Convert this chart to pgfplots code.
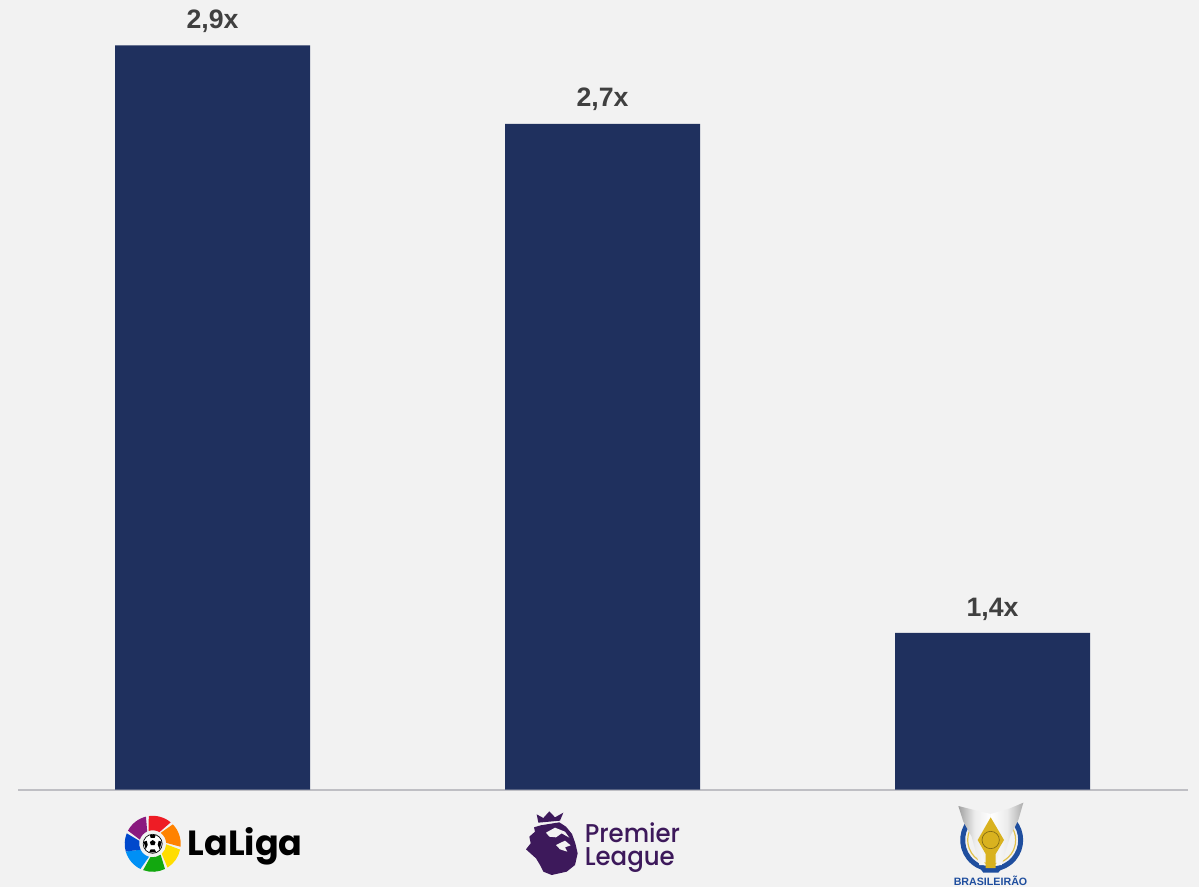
\documentclass[border=0pt]{standalone}
\usepackage{pgfplots}
\pgfplotsset{compat=1.18}
\usepackage{fontspec}
\setmainfont{Liberation Sans}
\newfontfamily\logofont{Poppins}
\newfontfamily\plfont[FakeStretch=0.95]{Poppins Medium}
\definecolor{pagebg}{HTML}{F2F2F2}
\definecolor{barblue}{HTML}{1F305E}
\definecolor{valuegray}{HTML}{404040}
\definecolor{baseline}{HTML}{BFBFC4}
\definecolor{plpurple}{HTML}{3D195B}
\definecolor{brblue}{HTML}{1F4E9E}
\definecolor{brgold}{HTML}{D9B21F}
\definecolor{lgpurple}{HTML}{8A1A7F}
\definecolor{lgred}{HTML}{EE1C25}
\definecolor{lgorange}{HTML}{FF8200}
\definecolor{lgyellow}{HTML}{FFDD00}
\definecolor{lggreen}{HTML}{12A80F}
\definecolor{lgsky}{HTML}{0090F5}
\definecolor{lgblue}{HTML}{0048CC}
% One sector of the seven-part wheel: start angle, end angle, colour
\newcommand{\wheelpart}[3]{%
  \fill[#3] ({#1+10}:13.5) arc[start angle=#1+10,end angle=#2+10,radius=13.5]
     -- (#2:28) arc[start angle=#2,end angle=#1,radius=28] -- cycle;}
\begin{document}
\begin{tikzpicture}
\begin{scope}[x=0.75pt,y=-0.75pt]
  \fill[pagebg] (0,0) rectangle (1199,887);
  \coordinate (origin) at (18,789.5);
\end{scope}
\begin{axis}[
  at={(origin)}, anchor=south west,
  scale only axis,
  width=877.5pt, height=592.1pt,
  xmin=-0.5, xmax=2.5,
  ymin=1, ymax=3.016,
  axis y line=none,
  axis x line=bottom,
  axis line style={-, draw=baseline, line width=1.5pt},
  xtick=\empty, ytick=\empty,
  clip=false,
  ybar,
  bar width=146.25pt,
  /pgf/number format/assume math mode=true,
  nodes near coords={\pgfmathprintnumber[fixed,fixed zerofill,precision=1,use comma,assume math mode=true]{\pgfplotspointmeta}x},
  every node near coord/.append style={
    anchor=base, yshift=12.6pt, inner sep=0pt,
    font=\fontsize{20}{24}\selectfont\bfseries, text=valuegray},
]
  \addplot[fill=barblue, draw=none] coordinates {(-0.0012,2.9) (0.9988,2.7) (1.9988,1.4)};
\end{axis}
\begin{scope}[x=0.75pt,y=-0.75pt]
  % LaLiga wheel and wordmark
  \begin{scope}[shift={(152.7,843.8)}]
    \begin{scope}[y=0.75pt]
      \wheelpart{104}{152}{lgpurple}
      \wheelpart{50}{98}{lgred}
      \wheelpart{-6}{44}{lgorange}
      \wheelpart{-58}{-12}{lgyellow}
      \wheelpart{-110}{-64}{lggreen}
      \wheelpart{-164}{-116}{lgsky}
      \wheelpart{158}{196}{lgblue}
    \end{scope}
    \fill[white] (0,0) circle (9.5);
    \fill[black] (-2.8,-1.8) -- (0,-3.8) -- (2.8,-1.8) -- (1.8,1.4) -- (-1.8,1.4) -- cycle;
    \fill[black] (-3,-9) -- (3,-9) -- (2,-6) -- (-2,-6) -- cycle;
    \fill[black] (-9,-2) -- (-6,-3) -- (-5,1) -- (-7,5.5) -- cycle;
    \fill[black] (9,-2) -- (6,-3) -- (5,1) -- (7,5.5) -- cycle;
    \fill[black] (-3.5,8.5) -- (-2,5.5) -- (2,5.5) -- (3.5,8.5) -- cycle;
    \draw[black, line width=0.5pt] (0,0) circle (9.5);
  \end{scope}
  \node[anchor=base west, inner sep=0pt, font=\logofont\fontsize{26.2}{30}\selectfont\bfseries, text=black]
    at (187.5,855.5) {LaLiga};
  % Premier League lion and wordmark
  \begin{scope}[shift={(510,790)}]
    \begin{scope}[x=0.25pt,y=-0.25pt]
      \fill[plpurple] (85,98) -- (80,73) -- (100,84) -- (118,64) -- (135,82) -- (160,68) -- (150,92) -- cycle;
      \fill[plpurple] (92,106) -- (148,97) -- (168,110) -- (186,132) -- (196,160) -- (203,190)
        -- (195,225) -- (170,245) -- (125,255) -- (100,245) -- (90,225) -- (78,205)
        -- (48,178) -- (62,160) -- (58,140) -- (75,125) -- (72,112) -- cycle;
      \fill[pagebg] (108,128) -- (135,113) -- (165,125) -- (178,143) -- (155,130) -- (138,142) -- (118,140) -- cycle;
      \fill[pagebg] (138,165) -- (165,152) -- (182,166) -- (165,172) -- (172,185) -- (150,178) -- cycle;
    \end{scope}
  \end{scope}
  \node[anchor=base west, inner sep=0pt, align=left,
        font=\plfont\fontsize{19.3}{17.25}\selectfont, text=plpurple]
    at (584.5,865.5) {Premier\\League};
  % Brasileirão ring, trophy and wordmark
  \begin{scope}[shift={(930,790)}]
    \begin{scope}[x=0.25pt,y=-0.25pt]
      \draw[brblue, line width=3.7pt] ({185+87*cos(220)},{150+87*sin(220)})
        arc[start angle=220, end angle=-40, radius=87];
      \draw[brgold!80!white, line width=0.9pt] ({185+72*cos(215)},{150+72*sin(215)})
        arc[start angle=215, end angle=-35, radius=72];
      % silver cup
      \shade[left color=gray!75, right color=white, middle color=gray!15]
        (85,48) -- (125,58) -- (182,72) -- (182,110) -- (150,155) -- (165,225) -- (148,225)
        -- (125,140) -- (100,95) -- cycle;
      \shade[left color=white, right color=gray!65, middle color=gray!15]
        (280,38) -- (240,55) -- (182,72) -- (182,110) -- (215,155) -- (198,225) -- (215,225)
        -- (240,140) -- (265,90) -- cycle;
      % gold body
      \fill[brgold] (182,82) -- (222,150) -- (197,192) -- (197,235) -- (167,235) -- (167,192) -- (143,150) -- cycle;
      \draw[brgold!60!black, line width=0.5pt] (182,150) circle (26);
      \fill[brblue] (150,235) -- (215,235) -- (205,248) -- (160,248) -- cycle;
    \end{scope}
  \end{scope}
  \node[anchor=base, inner sep=0pt, font=\fontsize{8}{9}\selectfont\bfseries, text=brblue]
    at (990.5,885) {BRASILEIRÃO};
\end{scope}
\end{tikzpicture}
\end{document}
